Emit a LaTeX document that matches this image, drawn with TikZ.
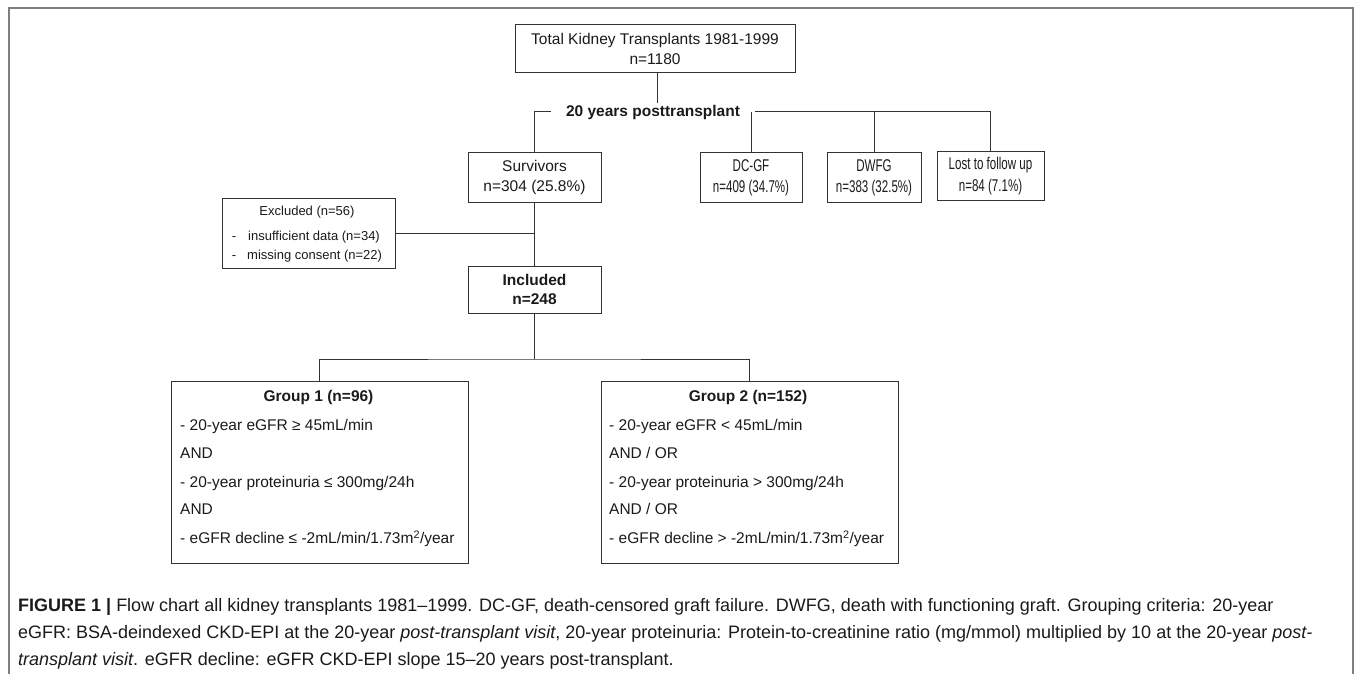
\documentclass[tikz,border=0pt]{standalone}
\usepackage{fontspec}
\usepackage{graphicx}
\setmainfont{Liberation Sans}
\definecolor{linec}{HTML}{333333}
\definecolor{textc}{HTML}{1A1A1A}
\definecolor{framec}{HTML}{7F7F7F}
\newcommand\narrowtxt[1]{\scalebox{0.68}[1]{\fontsize{17}{19.5}\selectfont\renewcommand\arraystretch{1.1}\begin{tabular}{@{}c@{}}#1\end{tabular}}}
\begin{document}
\begin{tikzpicture}[x=1pt,y=-1pt,
  box/.style={draw=linec, line width=1pt, inner sep=0pt, align=center, text=textc,
    font=\fontsize{15.5}{19.5}\selectfont},
  conn/.style={draw=linec, line width=1pt},
  frameline/.style={draw=framec, line width=1.4pt},
  txt/.style={inner sep=0pt, text=textc, font=\fontsize{15.5}{19.5}\selectfont},
  btxt/.style={inner sep=0pt, text=textc, font=\fontsize{15.5}{19.5}\selectfont\bfseries},
  small/.style={inner sep=0pt, text=textc, font=\fontsize{13}{16}\selectfont},
  captxt/.style={inner sep=0pt, text=textc, anchor=base west, font=\fontsize{18}{22}\selectfont}]
\useasboundingbox (0,0) rectangle (1355,674);
\draw[frameline] (9,674) -- (9,8) -- (1353,8) -- (1353,674);

% top
\node[box, minimum width=280, minimum height=48] (total) at (655,49) {Total Kidney Transplants 1981-1999\\n=1180};
\coordinate (tdown) at (657,103);
\draw[conn] (total.south -| tdown) -- (tdown);
\node[btxt, inner xsep=15pt] (lbl) at (653,112) {20 years posttransplant};

% second row
\node[box, minimum width=133, minimum height=49] (surv) at (534.5,177.5) {Survivors\\n=304 (25.8\%)};
\node[box, minimum width=102, minimum height=49] (dcgf) at (751,177.5) {\narrowtxt{DC-GF\\n=409 (34.7\%)}};
\node[box, minimum width=94, minimum height=49] (dwfg) at (874,177.5) {\narrowtxt{DWFG\\n=383 (32.5\%)}};
\node[box, minimum width=107, minimum height=48] (lost) at (990.5,176) {\narrowtxt{Lost to follow up\\n=84 (7.1\%)}};

\draw[conn] (lbl.west) -- (lbl.west -| surv.north) -- (surv.north);
\draw[conn] (lbl.east) -- (lbl.east -| lost.north) -- (lost.north);
\draw[conn] (lbl.east -| dcgf.north) -- (dcgf.north);
\draw[conn] (lbl.east -| dwfg.north) -- (dwfg.north);

% excluded
\node[box, minimum width=173, minimum height=70] (excl) at (308.5,233) {};
\node[small, anchor=base] (exT) at (307,215.5) {Excluded (n=56)};
\node[small, anchor=base] (exd1) at (234,240.5) {-};
\node[small, anchor=base west] (ex1) at (248,240.5) {insufficient data (n=34)};
\node[small, anchor=base] (exd2) at (234,259.5) {-};
\node[small, anchor=base west] (ex2) at (247,259.5) {missing consent (n=22)};

% included
\node[box, minimum width=133, minimum height=47, font=\fontsize{15.5}{19.5}\selectfont\bfseries] (incl) at (534.5,289.5) {Included\\n=248};
\draw[conn] (surv.south) -- (incl.north);
\draw[conn] (excl.east) -- (excl.east -| surv.south);

% groups
\node[box, minimum width=297, minimum height=182] (g1) at (319.5,472) {};
\node[box, minimum width=297, minimum height=182] (g2) at (749.5,472) {};
\coordinate (gsplit) at (534.5,359);
\draw[conn] (incl.south) -- (gsplit);
\draw[conn] (g1.north) |- (gsplit) -| (g2.north);

\node[btxt] (g1t) at (318.5,397) {Group 1 (n=96)};
\node[txt, anchor=base west] (g1a) at (180,430.5) {- 20-year eGFR ≥ 45mL/min};
\node[txt, anchor=base west] (g1b) at (180,458.5) {AND};
\node[txt, anchor=base west] (g1c) at (180,487.5) {- 20-year proteinuria ≤ 300mg/24h};
\node[txt, anchor=base west] (g1d) at (180,514.5) {AND};
\node[txt, anchor=base west] (g1e) at (180,543.5) {- eGFR decline ≤ -2mL/min/1.73m\textsuperscript{2}/year};

\node[btxt] (g2t) at (748,397) {Group 2 (n=152)};
\node[txt, anchor=base west] (g2a) at (609,430.5) {- 20-year eGFR < 45mL/min};
\node[txt, anchor=base west] (g2b) at (609,458.5) {AND / OR};
\node[txt, anchor=base west] (g2c) at (609,487.5) {- 20-year proteinuria > 300mg/24h};
\node[txt, anchor=base west] (g2d) at (609,514.5) {AND / OR};
\node[txt, anchor=base west] (g2e) at (609,543.5) {- eGFR decline > -2mL/min/1.73m\textsuperscript{2}/year};

% caption
\node[captxt] (c1) at (18,611) {\textbf{FIGURE 1 |} Flow chart all kidney transplants 1981--1999. DC-GF, death-censored graft failure. DWFG, death with functioning graft. Grouping criteria: 20-year};
\node[captxt] (c2) at (18,638) {eGFR: BSA-deindexed CKD-EPI at the 20-year \textit{post-transplant visit}, 20-year proteinuria: Protein-to-creatinine ratio (mg/mmol) multiplied by 10 at the 20-year \textit{post-}};
\node[captxt] (c3) at (18,665) {\textit{transplant visit}. eGFR decline: eGFR CKD-EPI slope 15--20 years post-transplant.};
\end{tikzpicture}
\end{document}
